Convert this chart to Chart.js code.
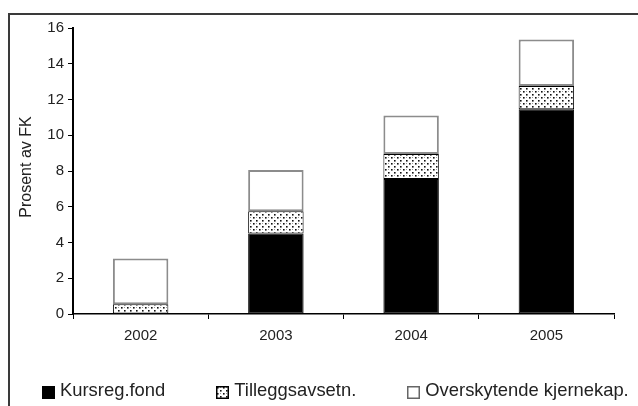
<!DOCTYPE html>
<html lang="no">
<head>
    <meta charset="UTF-8">
    <title>Prosent av FK</title>
    <script src="https://cdn.jsdelivr.net/npm/chart.js@4.4.0/dist/chart.umd.min.js"></script>
    <style>
        body {
            margin: 0;
            background: #fff;
            font-family: "Liberation Sans", Arial, sans-serif;
        }
        .frame {
            position: absolute;
            left: 8px;
            top: 13px;
            width: 700px;
            height: 500px;
            border: 2px solid #3a3a3a;
        }
        .wrap {
            position: absolute;
            left: 0;
            top: 0;
            width: 638px;
            height: 406px;
        }
        #legend {
            position: absolute;
            left: 42px;
            top: 379px;
            display: flex;
            gap: 51px;
            font-size: 18.4px;
            color: #222;
            white-space: nowrap;
        }
        #legend .item {
            display: flex;
            align-items: flex-end;
        }
        #legend canvas {
            margin-right: 5px;
            margin-bottom: 2px;
        }
    </style>
</head>
<body>
    <div class="frame"></div>
    <div class="wrap"><canvas id="chart" width="638" height="406"></canvas></div>
    <div id="legend"></div>

    <script>
        const years = ['2002', '2003', '2004', '2005'];
        const kursreg = [0, 4.5, 7.55, 11.45];
        const tillegg = [0.55, 1.25, 1.4, 1.3];
        const overskytende = [2.55, 2.3, 2.15, 2.6];
        const yTicks = [0, 2, 4, 6, 8, 10, 12, 14, 16];

        // prikkemønster for tilleggsavsetninger
        function dotPattern(target) {
            const c = document.createElement('canvas');
            c.width = 6;
            c.height = 6;
            const g = c.getContext('2d');
            g.fillStyle = '#fff';
            g.fillRect(0, 0, 6, 6);
            g.fillStyle = '#111';
            g.fillRect(1, 1, 1.6, 1.6);
            g.fillRect(4, 4, 1.6, 1.6);
            g.fillStyle = '#999';
            g.fillRect(4, 1, 1, 1);
            return target.createPattern(c, 'repeat');
        }

        const ctx = document.getElementById('chart').getContext('2d');

        const yTitle = {
            id: 'yTitle',
            afterDraw(chart) {
                const c = chart.ctx;
                c.save();
                c.translate(27, 167);
                c.rotate(-Math.PI / 2);
                c.font = '16px "Liberation Sans", Arial, sans-serif';
                c.fillStyle = '#222';
                c.textAlign = 'center';
                c.textBaseline = 'middle';
                c.fillText('Prosent av FK', 0, 0);
                c.restore();
            }
        };

        const chart = new Chart(ctx, {
            type: 'bar',
            data: {
                labels: years,
                datasets: [{
                    label: 'Kursreg.fond',
                    data: kursreg,
                    backgroundColor: '#000',
                    borderColor: '#000',
                    borderWidth: 1,
                    borderSkipped: false
                }, {
                    label: 'Tilleggsavsetn.',
                    data: tillegg,
                    backgroundColor: dotPattern(ctx),
                    borderColor: '#000',
                    borderWidth: 1,
                    borderSkipped: false
                }, {
                    label: 'Overskytende kjernekap.',
                    data: overskytende,
                    backgroundColor: '#fff',
                    borderColor: '#8c8c8c',
                    borderWidth: 2,
                    borderSkipped: false
                }]
            },
            options: {
                responsive: false,
                animation: false,
                barPercentage: 1,
                categoryPercentage: 0.41,
                layout: {
                    padding: { left: 0, right: 24, top: 28, bottom: 50 }
                },
                scales: {
                    x: {
                        stacked: true,
                        grid: {
                            offset: true,
                            drawOnChartArea: false,
                            tickLength: 5,
                            color: '#000'
                        },
                        border: { color: '#000', width: 1.5 },
                        ticks: {
                            color: '#222',
                            padding: 8,
                            font: { family: '"Liberation Sans", Arial, sans-serif', size: 15 }
                        },
                        afterFit(scale) { scale.height = 42; }
                    },
                    y: {
                        stacked: true,
                        min: 0,
                        max: 16,
                        afterBuildTicks(scale) {
                            scale.ticks = yTicks.map(v => ({ value: v }));
                        },
                        grid: {
                            drawOnChartArea: false,
                            tickLength: 5,
                            color: '#000'
                        },
                        border: { color: '#000', width: 2 },
                        ticks: {
                            color: '#222',
                            padding: 4,
                            font: { family: '"Liberation Sans", Arial, sans-serif', size: 15 }
                        },
                        afterFit(scale) { scale.width = 73; }
                    }
                },
                plugins: {
                    legend: { display: false },
                    tooltip: { enabled: false }
                }
            },
            plugins: [yTitle]
        });

        // forklaring under diagrammet, bygget fra datasettene
        const legend = document.getElementById('legend');
        chart.data.datasets.forEach(ds => {
            const item = document.createElement('div');
            item.className = 'item';
            const box = document.createElement('canvas');
            box.width = 13;
            box.height = 13;
            const b = box.getContext('2d');
            b.fillStyle = ds.label === 'Tilleggsavsetn.' ? dotPattern(b) : ds.backgroundColor;
            b.fillRect(0, 0, 13, 13);
            b.strokeStyle = ds.label === 'Overskytende kjernekap.' ? '#666' : '#000';
            b.lineWidth = 1.5;
            b.strokeRect(0.75, 0.75, 11.5, 11.5);
            const text = document.createElement('span');
            text.textContent = ds.label;
            item.appendChild(box);
            item.appendChild(text);
            legend.appendChild(item);
        });
    </script>
</body>
</html>
